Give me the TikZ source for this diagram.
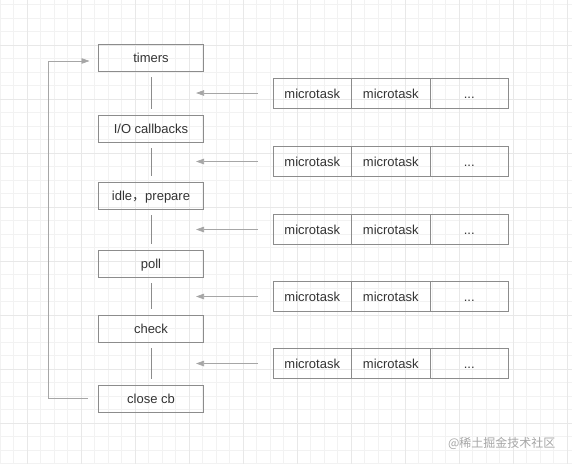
\documentclass[tikz,border=0pt]{standalone}
\usepackage{fontspec}
\setmainfont{Liberation Sans}
\newfontfamily\cjkfont{Noto Sans CJK SC}
\usetikzlibrary{arrows.meta, positioning}

\begin{document}
\begin{tikzpicture}[
  x=1pt, y=-1pt,
  every node/.style={font=\fontsize{13}{15}\selectfont, text=black!80},
  phase/.style={draw=black!45, minimum width=105pt, minimum height=27pt, inner sep=0pt, outer sep=0pt,
    text height=12.5pt, text depth=2.5pt},
  task/.style={draw=black!45, minimum width=78.5pt, minimum height=30pt, inner sep=0pt, outer sep=0pt,
    text height=12.5pt, text depth=2.5pt},
  link/.style={draw=black!45, line width=0.7pt},
  feed/.style={draw=black!35, line width=0.7pt, -{Triangle[length=8pt, width=5.5pt]}}
]
  \useasboundingbox (0,0) rectangle (572,464);
  % background grid
  \foreach \i in {0,...,43} {
    \draw[black!5] (\i*13.5,0) -- (\i*13.5,464);
  }
  \foreach \i in {0,...,34} {
    \draw[black!5] (0,4.5+\i*13.5) -- (572,4.5+\i*13.5);
  }
  \foreach \i in {0,...,10} {
    \draw[black!9] (27+\i*54,0) -- (27+\i*54,464);
  }
  \foreach \i in {0,...,8} {
    \draw[black!9] (0,45+\i*54) -- (572,45+\i*54);
  }

  % event loop phases
  \node[phase] (timers) at (151,57.5) {timers};
  \node[phase] (io)     at (151,128.5) {I/O callbacks};
  \node[phase] (idle)   at (151,195.5) {idle{\cjkfont ，}prepare};
  \node[phase] (poll)   at (151,263.5) {poll};
  \node[phase] (check)  at (151,328.5) {check};
  \node[phase] (close)  at (151,398.5) {close cb};

  \foreach \a/\b in {timers/io, io/idle, idle/poll, poll/check, check/close} {
    \draw[link, shorten <=6pt, shorten >=6pt] (\a) -- (\b);
  }

  % microtask queues
  \foreach \r/\y in {1/93, 2/161.5, 3/229.5, 4/296.5, 5/363.5} {
    \node[task] (q\r a) at (312.25,\y) {microtask};
    \node[task, right=0pt of q\r a] (q\r b) {microtask};
    \node[task, right=0pt of q\r b] (q\r c) {...};
    \coordinate (tip\r) at (196,\y);
    \draw[feed, shorten <=15pt] (q\r a) -- (tip\r);
  }

  % back to timers
  \coordinate (lb) at (48,398.5);
  \coordinate (lt) at (48,61);
  \draw[feed, shorten <=11pt, shorten >=9pt] (close.west) -- (lb) -- (lt) -- (timers.west |- lt);

  \node[font=\cjkfont\fontsize{12}{14}\selectfont, text=black!35, anchor=east] (mark) at (559,443) {@稀土掘金技术社区};
\end{tikzpicture}
\end{document}
